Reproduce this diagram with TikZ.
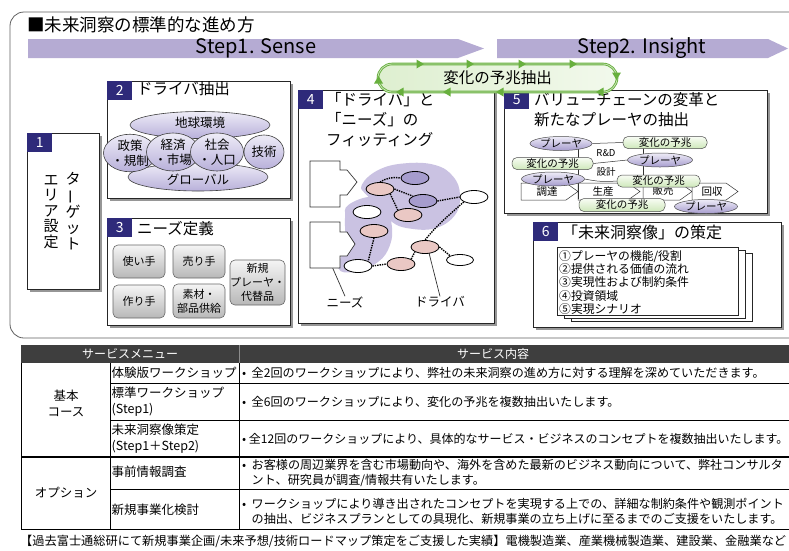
\documentclass[tikz,border=0pt]{standalone}
\usepackage{fontspec}
\setmainfont{Noto Sans CJK JP}
\usepackage{graphicx}
\usetikzlibrary{shapes.geometric,shapes.misc,shadows,calc}

\definecolor{navy}{RGB}{46,42,122}
\definecolor{stepc}{RGB}{181,171,211}
\definecolor{loopc}{RGB}{104,176,62}
\definecolor{blobc}{RGB}{202,194,226}
\definecolor{lavtop}{RGB}{238,236,247}
\definecolor{lavbot}{RGB}{184,176,218}
\definecolor{purc}{RGB}{166,156,206}
\definecolor{pinkc}{RGB}{234,200,196}
\definecolor{sgtop}{RGB}{248,252,244}
\definecolor{sgbot}{RGB}{206,232,186}
\definecolor{framec}{RGB}{95,95,95}
\definecolor{headc}{RGB}{62,62,62}
\definecolor{shadowc}{RGB}{150,150,150}

\newcommand{\fsz}[1]{\fontsize{#1}{#1}\selectfont}
\newcommand{\vbar}{\rotatebox[origin=c]{90}{ー}}

\pgfdeclarelayer{panels}
\pgfdeclarelayer{links}
\pgfsetlayers{panels,links,main}

\tikzset{
  panel/.style={draw=black!85, fill=white, line width=0.6pt, rectangle, inner sep=0pt,
    anchor=north west, drop shadow={shadow xshift=2.5pt, shadow yshift=-2.5pt, fill=shadowc, opacity=1}},
  numtag/.style={fill=navy, text=white, anchor=north west, minimum width=25pt,
    minimum height=19pt, inner sep=0pt, font=\fsz{14}},
  ttl/.style={anchor=west, inner sep=0pt, font=\fsz{15.5}},
  lav/.style={ellipse, draw=black!75, line width=0.6pt, top color=lavtop, bottom color=lavbot,
    inner sep=0pt, align=center, font=\fontsize{12.5}{15}\selectfont},
  btn/.style={rounded corners=5pt, draw=black!60, line width=0.6pt, top color=black!4,
    bottom color=black!28, inner sep=0pt, align=center, font=\fontsize{11}{14}\selectfont},
  nel/.style={ellipse, draw=black, line width=0.8pt, minimum width=28pt, minimum height=13pt, inner sep=0pt},
  dotline/.style={densely dotted, line width=1.4pt},
  pl/.style={ellipse, draw=black!70, line width=0.5pt, top color=lavtop, bottom color=purc,
    minimum width=62pt, minimum height=14pt, inner sep=0pt, font=\fsz{10.5}},
  sg/.style={rounded corners=5pt, draw=black!70, line width=0.5pt, top color=sgtop, bottom color=sgbot,
    minimum width=84pt, minimum height=12pt, inner sep=0pt, font=\fsz{10.5}},
  chev/.style={draw=black!80, fill=white, line width=0.5pt},
  paper/.style={draw=black!85, fill=white, line width=0.6pt},
  thin/.style={draw=black!80, line width=0.5pt},
  cell/.style={anchor=west, inner sep=0pt, align=left},
  gtri/.pic={\fill[loopc] (-3.5,-4.5) -- (4,0) -- (-3.5,4.5) -- cycle;}
}

\begin{document}
\begin{tikzpicture}[x=1pt,y=-1pt]
\useasboundingbox (0,0) rectangle (789,550);
\clip (0,0) rectangle (789,550);

% ---------- outer frame, title and step bands ----------
\begin{pgfonlayer}{panels}
\draw[framec, line width=0.8pt, rounded corners=14pt] (10,12) rectangle (830,338);
\end{pgfonlayer}
\node[anchor=west, inner sep=0pt, font=\fsz{17.5}] (title) at (27,25) {■未来洞察の標準的な進め方};

\fill[stepc] (28,39) -- (458,39) -- (484,48.5) -- (458,58) -- (28,58) -- cycle;
\node[font=\fsz{20}, inner sep=0pt] (s1) at (256,48) {Step1. Sense};
\fill[stepc] (497,39) -- (768,39) -- (788,48.5) -- (768,58) -- (497,58) -- cycle;
\node[font=\fsz{20}, inner sep=0pt] (s2) at (642,48) {Step2. Insight};

% ---------- panels ----------
\begin{pgfonlayer}{panels}
\node[panel, minimum width=72pt, minimum height=156pt] (p1) at (27,133) {};
\node[panel, minimum width=183pt, minimum height=117pt] (p2) at (107,81) {};
\node[panel, minimum width=183pt, minimum height=107pt] (p3) at (107,218) {};
\node[panel, minimum width=196pt, minimum height=233pt] (p4) at (298,90) {};
\node[panel, minimum width=263pt, minimum height=123pt] (p5) at (504,90) {};
\node[panel, minimum width=248pt, minimum height=105pt] (p6) at (533,222) {};
\end{pgfonlayer}

\node[numtag] (n1) at (p1.north west) {1};
\node[numtag] (n2) at (p2.north west) {2};
\node[numtag] (n3) at (p3.north west) {3};
\node[numtag] (n4) at (p4.north west) {4};
\node[numtag] (n5) at (p5.north west) {5};
\node[numtag] (n6) at (p6.north west) {6};

% ---------- 1: target area ----------
\node[inner sep=0pt, align=center, font=\fontsize{15}{15.6}\selectfont] (t1a) at (73,211)
  {タ\\\vbar\\ゲ\\ッ\\ト};
\node[inner sep=0pt, align=center, font=\fontsize{15}{15.6}\selectfont] (t1b) at (51,212)
  {エ\\リ\\ア\\設\\定};

% ---------- 2: drivers ----------
\node[ttl] (t2) at (137,89) {ドライバ抽出};
\node[lav, minimum width=140pt, minimum height=27pt] (glb) at (200,125) {};
\node[lav, minimum width=140pt, minimum height=28pt] (gbl) at (198,177) {};
\node[inner sep=0pt, font=\fsz{12.5}] (glbt) at (200,122.5) {地球環境};
\node[inner sep=0pt, font=\fsz{12.5}] (gblt) at (198,180) {グローバル};
\node[lav, minimum width=42pt, minimum height=37pt] (d1) at (130,153) {政策\\・規制};
\node[lav, minimum width=42pt, minimum height=38pt] (d2) at (173,152) {経済\\・市場};
\node[lav, minimum width=42pt, minimum height=38pt] (d3) at (217,152) {社会\\・人口};
\node[lav, minimum width=40pt, minimum height=34pt] (d4) at (264,152) {技術};

% ---------- 3: needs ----------
\node[ttl] (t3) at (137,229) {ニーズ定義};
\node[btn, minimum width=52pt, minimum height=33pt] (b1) at (139,261.5) {使い手};
\node[btn, minimum width=52pt, minimum height=33pt] (b2) at (199,261.5) {売り手};
\node[btn, minimum width=52pt, minimum height=33pt] (b3) at (139,301.5) {作り手};
\node[btn, minimum width=52pt, minimum height=34pt] (b4) at (199,301) {素材・\\部品供給};
\node[btn, minimum width=51pt, minimum height=45pt] (b5) at (257.5,282.5) {新規\\プレーヤ・\\代替品};

% ---------- 4: fitting ----------
\node[anchor=north west, inner sep=0pt, align=left, font=\fontsize{15.5}{20}\selectfont] (t4) at (326,92)
  {「ドライバ」と\\「ニーズ」の\\フィッティング};

\begin{pgfonlayer}{links}
\fill[blobc] plot[smooth cycle, tension=0.7] coordinates {
  (361.7,185) (378.3,170) (405,163.3) (435,165) (453.3,176.7) (460,195) (455,215)
  (435,228.3) (408.3,228.3) (391.7,221.7) (381.7,208.3) (366.7,195)};
\fill[blobc] plot[smooth cycle, tension=0.7] coordinates {
  (348.3,205) (371.7,196.7) (385,205) (391.7,225) (390,245) (378.3,261.7)
  (355,271.7) (338.3,268.3) (345,245) (345,218.3)};
\end{pgfonlayer}

\draw[thin, fill=white, line width=0.7pt] (310,161) -- (340,161) -- (340,170) -- (347,170)
  -- (357,182) -- (347,195) -- (340,195) -- (340,207) -- (310,207) -- cycle;
\node[inner sep=0pt] (fA) at (325,184) {};
\draw[thin, fill=white, line width=0.7pt] (310,222) -- (340,222) -- (340,232) -- (347,232)
  -- (355,244) -- (347,256) -- (340,256) -- (340,268) -- (310,268) -- cycle;
\node[inner sep=0pt] (fB) at (325,245) {};

\node[nel, fill=purc] (pu1) at (415,178) {};
\node[nel, fill=pinkc] (pk1) at (380,189) {};
\node[nel, fill=purc] (pu2) at (423,201) {};
\node[nel, fill=white] (wR) at (474,197) {};
\node[nel, fill=white] (wL) at (367,212) {};
\node[nel, fill=pinkc] (pk2) at (408,215) {};
\node[nel, fill=pinkc] (pk3) at (374,231) {};
\node[nel, fill=pinkc] (pk4) at (425,247) {};
\node[nel, fill=white, minimum width=27pt, minimum height=11pt] (wRL) at (460,260) {};
\node[nel, fill=pinkc] (pk5) at (401,264) {};
\node[nel, fill=white] (wBL) at (358,266) {};

\node[inner sep=0pt, font=\fsz{12.5}] (nz) at (345,302) {ニーズ};
\node[inner sep=0pt, font=\fsz{12.5}] (drv) at (440,302) {ドライバ};
\coordinate (nzp) at (327,255);
\coordinate (drp) at (428,249);

\begin{pgfonlayer}{links}
\draw[dotline] (pk1.north) to[bend left=20] (pu1.west);
\draw[dotline] (pk1.east) -- (pu2.north west);
\draw[dotline] (pk1.south east) -- (pk2.north west);
\draw[dotline] (pu2.east) -- (wR.west);
\draw[dotline] (wR.south west) .. controls (448,216) and (436,226) .. (pk4.north);
\draw[dotline] (pk3.south) -- (wBL.north east);
\draw[dotline] (wBL.east) -- (pk5.west);
\draw[dotline] (pk5.north east) -- (pk4.south west);
\draw[dotline] (pk4.east) -- (wRL.north west);
\draw[thin, line width=0.7pt] (nzp) -- (nz.north);
\draw[thin, line width=0.7pt] (drp) -- (drv.north);
\end{pgfonlayer}

% ---------- 5: value chain ----------
\node[anchor=north west, inner sep=0pt, align=left, font=\fontsize{15.5}{20}\selectfont] (t5) at (534,92)
  {バリューチェーンの変革と\\新たなプレーヤの抽出};

\begin{pgfonlayer}{panels}
\draw[chev] (521,183) -- (566,183) -- (578,191.5) -- (566,200) -- (521,200) -- cycle;
\draw[chev] (578,183) -- (628,183) -- (640,191.5) -- (628,200) -- (578,200) -- cycle;
\draw[chev] (643,183) -- (680,183) -- (692,191.5) -- (680,200) -- (643,200) -- cycle;
\draw[chev] (692,183) -- (726,183) -- (738,191.5) -- (726,200) -- (692,200) -- cycle;
\end{pgfonlayer}
\node[inner sep=0pt, font=\fsz{10.5}] (c1) at (547,192) {調達};
\node[inner sep=0pt, font=\fsz{10.5}] (c2) at (603,191) {生産};
\node[inner sep=0pt, font=\fsz{10.5}] (c3) at (663,191) {販売};
\node[inner sep=0pt, font=\fsz{10.5}] (c4) at (712,192) {回収};

\node[pl] (q1) at (561,143.5) {プレーヤ};
\node[pl, minimum width=65pt] (q2) at (660,160) {プレーヤ};
\node[pl, minimum width=63pt] (q3) at (553,179) {プレーヤ};
\node[pl, minimum width=63pt] (q4) at (706,206.5) {プレーヤ};
\node[sg] (g1) at (665,142.5) {変化の予兆};
\node[sg, minimum width=81pt] (g2) at (552.5,163.5) {変化の予兆};
\node[sg, minimum width=83pt] (g3) at (658.5,181) {変化の予兆};
\node[sg, minimum width=86pt, minimum height=13pt] (g4) at (622,205) {変化の予兆};
\node[inner sep=0pt, font=\fsz{9.5}] (rd) at (606,153) {R\&D};
\node[inner sep=0pt, font=\fsz{9.5}] (sk) at (606,172) {設計};

\coordinate (va) at (578,149);
\coordinate (vb) at (578,199);
\coordinate (vc) at (643,148);
\coordinate (vd) at (643,184);
\begin{pgfonlayer}{links}
\draw[thin] (q1.east) -- (g1.west);
\draw[thin] (g2.east) -- (q2.west);
\draw[thin] (q3.east) to[bend right=8] (g3.west);
\draw[thin] (va) -- (vb);
\draw[thin] (vc) -- (vd);
\end{pgfonlayer}

% ---------- 6: future image ----------
\node[ttl, font=\fsz{16}] (t6) at (562,232) {「未来洞察像」の策定};
\node[paper, anchor=north west, minimum width=181pt, minimum height=68pt, inner sep=0pt] (pp3) at (571,253) {};
\node[paper, anchor=north west, minimum width=181pt, minimum height=68pt, inner sep=0pt] (pp2) at (564,250) {};
\node[paper, anchor=north west, minimum width=181pt, minimum height=68pt, inner sep=0pt] (pp1) at (557,247) {};
\node[anchor=north west, inner sep=0pt, align=left, font=\fontsize{11.8}{13.4}\selectfont] (lst) at (559,250)
  {①プレーヤの機能/役割\\②提供される価値の流れ\\③実現性および制約条件\\④投資領域\\⑤実現シナリオ};

% ---------- change-sign loop ----------
\node[rounded rectangle, draw=loopc, double=loopc!35!white, double distance=0.8pt, line width=0.9pt,
  left color={rgb,255:red,222;green,239;blue,208}, right color={rgb,255:red,242;green,249;blue,236},
  minimum width=239pt, minimum height=28pt, inner sep=0pt, font=\fsz{15.5}] (chg) at (497.5,78) {変化の予兆抽出};
\pic at (420,64) {gtri};
\pic at (470,64) {gtri};
\pic at (522,64) {gtri};
\pic at (573,64) {gtri};
\pic[rotate=-90] at (616.5,76) {gtri};
\pic[rotate=180] at (600,92) {gtri};
\pic[rotate=180] at (500,92) {gtri};
\pic[rotate=180] at (447,92) {gtri};
\pic[rotate=180] at (400,92) {gtri};
\pic[rotate=90] at (378.5,80) {gtri};

% ---------- service table ----------
\fill[headc] (21,345) rectangle (800,363);
\draw[black!45, line width=1pt] (239,345) -- (239,363);
\node[text=white, inner sep=0pt, font=\fsz{12}] (h1) at (130,354) {サービスメニュー};
\node[text=white, inner sep=0pt, font=\fsz{12}] (h2) at (493,354) {サービス内容};

\draw[line width=0.7pt] (21,363) -- (21,529) -- (800,529);
\draw[line width=0.7pt] (110,363) -- (110,529);
\draw[line width=0.7pt] (239,363) -- (239,529);
\draw[line width=0.7pt] (110,383) -- (800,383);
\draw[line width=0.7pt] (110,420) -- (800,420);
\draw[line width=1.1pt] (21,457) -- (800,457);
\draw[line width=0.7pt] (110,489) -- (800,489);

\node[inner sep=0pt, align=center, font=\fontsize{12.5}{16}\selectfont] (r1) at (66,403) {基本\\コース};
\node[inner sep=0pt, font=\fsz{12.5}] (r2) at (66,493) {オプション};

\node[cell, font=\fsz{12.5}] (m1) at (111.5,373) {体験版ワークショップ};
\node[cell, font=\fontsize{12.5}{16}\selectfont] (m2) at (111.5,401.5) {標準ワークショップ\\(Step1)};
\node[cell, font=\fontsize{12.5}{16}\selectfont] (m3) at (111.5,438.5) {未来洞察像策定\\(Step1＋Step2)};
\node[cell, font=\fsz{12.5}] (m4) at (111.5,472) {事前情報調査};
\node[cell, font=\fsz{12.5}] (m5) at (111.5,510) {新規事業化検討};

\node[cell, font=\fsz{12.1}] (x1) at (242,373) {•\ \ 全2回のワークショップにより、弊社の未来洞察の進め方に対する理解を深めていただきます。};
\node[cell, font=\fsz{12.1}] (x2) at (242,402) {•\ \ 全6回のワークショップにより、変化の予兆を複数抽出いたします。};
\node[cell, font=\fsz{12}] (x3) at (242,438.5) {•\ 全12回のワークショップにより、具体的なサービス・ビジネスのコンセプトを複数抽出いたします。};
\node[cell, font=\fontsize{12.1}{15}\selectfont] (x4) at (242,473) {•\ \ お客様の周辺業界を含む市場動向や、海外を含めた最新のビジネス動向について、弊社コンサルタ\\\phantom{•\ \ }ント、研究員が調査/情報共有いたします。};
\node[cell, font=\fontsize{12.1}{15}\selectfont] (x5) at (242,511) {•\ \ ワークショップにより導き出されたコンセプトを実現する上での、詳細な制約条件や観測ポイント\\\phantom{•\ \ }の抽出、ビジネスプランとしての具現化、新規事業の立ち上げに至るまでのご支援をいたします。};

\node[anchor=west, inner sep=0pt, font=\fsz{12.2}] (foot) at (20,541)
  {【過去富士通総研にて新規事業企画/未来予想/技術ロードマップ策定をご支援した実績】電機製造業、産業機械製造業、建設業、金融業など};
\end{tikzpicture}
\end{document}
